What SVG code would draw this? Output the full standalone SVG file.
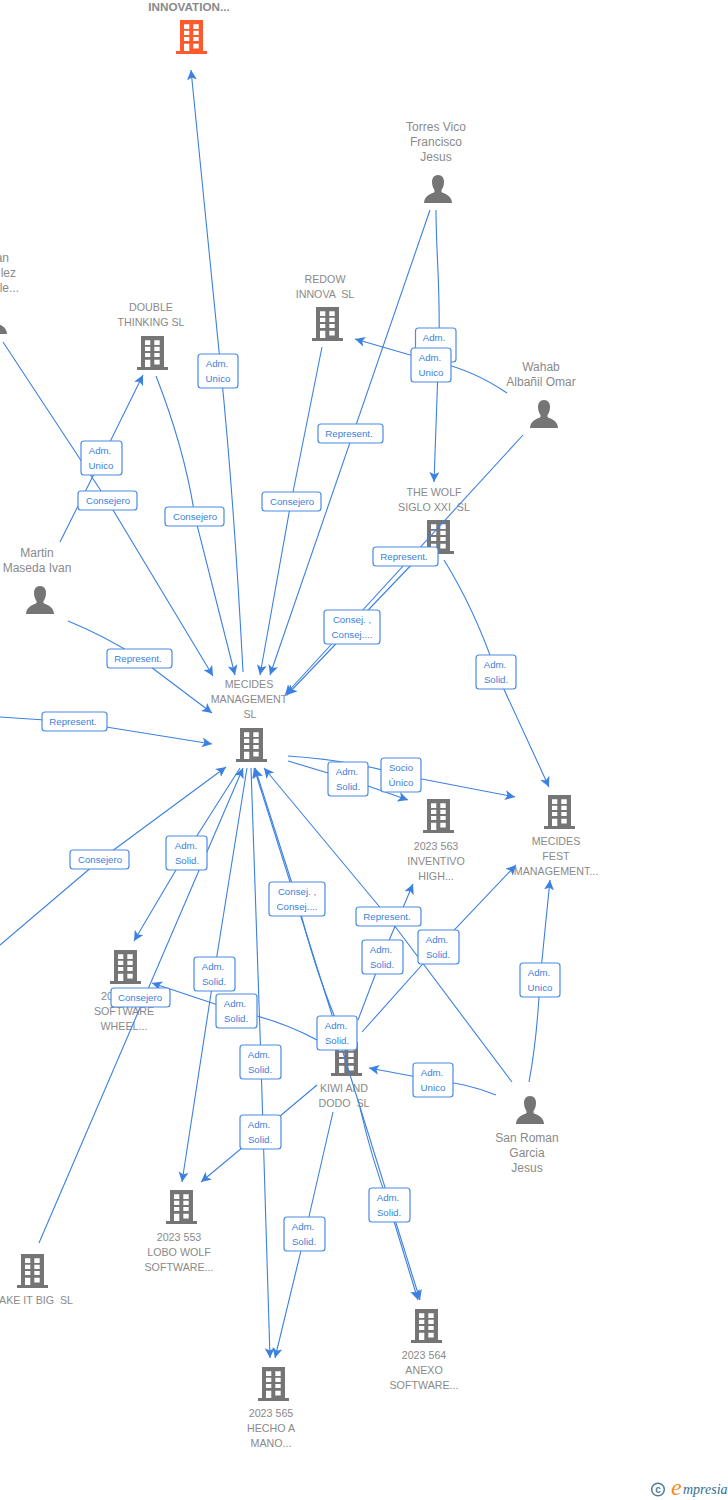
<svg xmlns="http://www.w3.org/2000/svg" width="728" height="1500" viewBox="0 0 728 1500">
<style>
text{font-family:"Liberation Sans",Arial,sans-serif;white-space:pre}
.c{font-size:10.7px;fill:#8a8a8a;text-anchor:middle}
.p{font-size:12px;fill:#8a8a8a;text-anchor:middle}
.e{fill:none;stroke:#3c80e0;stroke-width:1.1;marker-end:url(#a)}
.b{fill:#fff;stroke:#4a8be6;stroke-width:1.2}
.l{font-size:9.7px;fill:#3c7fdc;text-anchor:middle}
</style>
<defs>
<marker id="a" markerUnits="userSpaceOnUse" markerWidth="12" markerHeight="12" refX="10" refY="5" orient="auto"><path d="M0 0L10 5L0 10L2.500 5Z" fill="#3c80e0"/></marker>
<symbol id="bd" width="31" height="35" viewBox="0 0 31 35" overflow="visible"><path fill-rule="evenodd" d="M4 0H27V31H31V34H0V31H4ZM8 4.300V9H13.300V4.300ZM17.300 4.300V9H22.700V4.300ZM8 10.700V15H13.300V10.700ZM17.300 10.700V15H22.700V10.700ZM8 17V21H13.300V17ZM17.300 17V21H22.700V17ZM8 23.700V31H13.300V23.700ZM17.300 23.700V28.500H22.700V23.700Z"/></symbol>
<symbol id="pr" width="28" height="28" viewBox="0 0 28 28" overflow="visible"><path d="M14 0C18 0 20 3 20 7C20 11 18.500 13.500 17.500 15V17C20 19 27 19.500 28 27.500V28H0V27.500C1 19.500 8 19 10.500 17V15C9.500 13.500 8 11 8 7C8 3 10 0 14 0Z" fill="#757575"/></symbol>
</defs>

<g id="node-innovation"><text class="c" x="189" y="11" style="font-weight:bold;font-size:11.700px">INNOVATION...</text><use href="#bd" x="176" y="20" fill="#ff5a2e"/></g>
<g id="node-torres"><text class="p" x="436" y="131">Torres Vico</text><text class="p" x="436" y="146">Francisco</text><text class="p" x="436" y="161">Jesus</text><use href="#pr" x="424" y="175"/></g>
<g id="node-left-person"><text class="p" style="text-anchor:end" x="9" y="262">an</text><text class="p" style="text-anchor:end" x="16" y="277">lez</text><text class="p" style="text-anchor:end" x="19" y="292">le...</text><use href="#pr" x="-21" y="306"/></g>
<g id="node-double"><text class="c" x="151" y="311">DOUBLE</text><text class="c" x="151" y="326">THINKING SL</text><use href="#bd" x="137" y="336" fill="#757575"/></g>
<g id="node-redow"><text class="c" x="325" y="283">REDOW</text><text class="c" x="325" y="298">INNOVA  SL</text><use href="#bd" x="312" y="307" fill="#757575"/></g>
<g id="node-wahab"><text class="p" x="541" y="371">Wahab</text><text class="p" x="541" y="386">Albañil Omar</text><use href="#pr" x="530" y="400"/></g>
<g id="node-wolf"><text class="c" x="434" y="496">THE WOLF</text><text class="c" x="434" y="511">SIGLO XXI  SL</text><use href="#bd" x="423" y="520" fill="#757575"/></g>
<g id="node-martin"><text class="p" x="37" y="557">Martin</text><text class="p" x="37" y="572">Maseda Ivan</text><use href="#pr" x="26" y="586"/></g>
<g id="node-mecides"><text class="c" x="249" y="688">MECIDES</text><text class="c" x="249" y="703">MANAGEMENT</text><text class="c" x="250" y="718">SL</text><use href="#bd" x="236" y="728" fill="#757575"/></g>
<g id="node-563"><use href="#bd" x="423" y="799" fill="#757575"/><text class="c" x="436" y="850">2023 563</text><text class="c" x="436" y="865">INVENTIVO</text><text class="c" x="436" y="880">HIGH...</text></g>
<g id="node-fest"><use href="#bd" x="544" y="795" fill="#757575"/><text class="c" x="556" y="845">MECIDES</text><text class="c" x="556" y="860">FEST</text><text class="c" x="556" y="875">MANAGEMENT...</text></g>
<g id="node-wheel"><use href="#bd" x="110" y="950" fill="#757575"/><text class="c" style="text-anchor:start" x="101" y="1000">20</text><text class="c" x="124" y="1015">SOFTWARE</text><text class="c" x="124" y="1030">WHEEL...</text></g>
<g id="node-kiwi"><use href="#bd" x="331" y="1042" fill="#757575"/><text class="c" x="344" y="1092">KIWI AND</text><text class="c" x="344" y="1107">DODO  SL</text></g>
<g id="node-sanroman"><use href="#pr" x="516" y="1096"/><text class="p" x="527" y="1142">San Roman</text><text class="p" x="527" y="1157">Garcia</text><text class="p" x="527" y="1172">Jesus</text></g>
<g id="node-553"><use href="#bd" x="166" y="1190" fill="#757575"/><text class="c" x="179" y="1241">2023 553</text><text class="c" x="179" y="1256">LOBO WOLF</text><text class="c" x="179" y="1271">SOFTWARE...</text></g>
<g id="node-bigsl"><use href="#bd" x="17" y="1254" fill="#757575"/><text class="c" style="text-anchor:start" x="-1" y="1304">AKE IT BIG  SL</text></g>
<g id="node-564"><use href="#bd" x="411" y="1309" fill="#757575"/><text class="c" x="424" y="1359">2023 564</text><text class="c" x="424" y="1374">ANEXO</text><text class="c" x="424" y="1389">SOFTWARE...</text></g>
<g id="node-565"><use href="#bd" x="258" y="1367" fill="#757575"/><text class="c" x="271" y="1417">2023 565</text><text class="c" x="271" y="1432">HECHO A</text><text class="c" x="271" y="1447">MANO...</text></g>

<g id="connectors">
<path class="e" d="M243 672Q234 500 221 371L191 70"/>
<path class="e" d="M430 210L270 675"/>
<path class="e" d="M436 210C436 260 442 300 438 370L434 482"/>
<path class="e" d="M507 393Q470 368 431 361L355 339"/>
<path class="e" d="M523 435L285 695"/>
<path class="e" d="M415 561L352 627L287 695"/>
<path class="e" d="M444 560Q475 610 496 672L549 787"/>
<path class="e" d="M322 347L291 502L260 675"/>
<path class="e" d="M156 376Q185 450 195 517L235 675"/>
<path class="e" d="M60 542L102 458L143 375"/>
<path class="e" d="M3 342L107 500L213 676"/>
<path class="e" d="M68 621Q105 636 139 658L212 713"/>
<path class="e" d="M0 717L75 722L212 744"/>
<path class="e" d="M288 761L348 779L408 800"/>
<path class="e" d="M288 756Q350 760 401 775L515 797"/>
<path class="e" d="M0 945L100 860L226 767"/>
<path class="e" d="M240 768L186 853L134 941"/>
<path class="e" d="M39 1243L243 768"/>
<path class="e" d="M247 768L214 974L182 1182"/>
<path class="e" d="M251 768L261 1062L270 1358"/>
<path class="e" d="M336 1020Q315 970 297 899L255 768"/>
<path class="e" d="M333 1018L254 768"/>
<path class="e" d="M512 1082L388 917L264 768"/>
<path class="e" d="M358 1020L382 957L413 884"/>
<path class="e" d="M362 1032L438 947L516 865"/>
<path class="e" d="M317 1040Q280 1020 236 1011L152 983"/>
<path class="e" d="M337 1033L420 1300"/>
<path class="e" d="M317 1085L261 1132L201 1182"/>
<path class="e" d="M333 1112L305 1234L275 1358"/>
<path class="e" d="M360 1108Q372 1160 389 1205L418 1300"/>
<path class="e" d="M496 1095Q470 1084 433 1080L369 1068"/>
<path class="e" d="M529 1082Q537 1040 540 980L550 880"/>
<g id="edge-labels">
<rect class="b" x="198" y="354" width="40" height="34" rx="3"/><text class="l" x="217" y="367">Adm.</text><text class="l" x="218" y="382">Unico</text>
<rect class="b" x="415.500" y="328" width="40.500" height="34" rx="3"/><text class="l" x="434" y="341">Adm.</text>
<rect class="b" x="411" y="348" width="40" height="34" rx="3"/><text class="l" x="430" y="361">Adm.</text><text class="l" x="431" y="376">Unico</text>
<rect class="b" x="318" y="424" width="65" height="19" rx="3"/><text class="l" x="349" y="437">Represent.</text>
<rect class="b" x="81" y="441" width="41" height="34" rx="3"/><text class="l" x="100" y="454">Adm.</text><text class="l" x="101" y="469">Unico</text>
<rect class="b" x="78" y="491" width="59" height="19" rx="3"/><text class="l" x="108" y="504">Consejero</text>
<rect class="b" x="262" y="492" width="59" height="19" rx="3"/><text class="l" x="292" y="505">Consejero</text>
<rect class="b" x="165" y="507" width="59" height="19" rx="3"/><text class="l" x="195" y="520">Consejero</text>
<rect class="b" x="373" y="547" width="65" height="19" rx="3"/><text class="l" x="404" y="560">Represent.</text>
<rect class="b" x="324" y="610" width="56" height="34" rx="3"/><text class="l" x="352" y="623">Consej. ,</text><text class="l" x="352" y="638">Consej....</text>
<rect class="b" x="107" y="649" width="65" height="19" rx="3"/><text class="l" x="138" y="662">Represent.</text>
<rect class="b" x="476" y="655" width="40" height="34" rx="3"/><text class="l" x="495" y="668">Adm.</text><text class="l" x="496" y="683">Solid.</text>
<rect class="b" x="42" y="712" width="65" height="19" rx="3"/><text class="l" x="73" y="725">Represent.</text>
<rect class="b" x="381" y="758" width="40" height="34" rx="3"/><text class="l" x="401" y="771">Socio</text><text class="l" x="401" y="786">Único</text>
<rect class="b" x="328" y="762" width="40" height="34" rx="3"/><text class="l" x="347" y="775">Adm.</text><text class="l" x="348" y="790">Solid.</text>
<rect class="b" x="166" y="836" width="41" height="34" rx="3"/><text class="l" x="186" y="849">Adm.</text><text class="l" x="187" y="864">Solid.</text>
<rect class="b" x="70" y="850" width="59" height="19" rx="3"/><text class="l" x="100" y="863">Consejero</text>
<rect class="b" x="269" y="882" width="56" height="34" rx="3"/><text class="l" x="297" y="895">Consej. ,</text><text class="l" x="297" y="910">Consej....</text>
<rect class="b" x="356" y="907" width="65" height="19" rx="3"/><text class="l" x="387" y="920">Represent.</text>
<rect class="b" x="418" y="930" width="41" height="34" rx="3"/><text class="l" x="437" y="943">Adm.</text><text class="l" x="438" y="958">Solid.</text>
<rect class="b" x="362" y="940" width="41" height="34" rx="3"/><text class="l" x="381" y="953">Adm.</text><text class="l" x="382" y="968">Solid.</text>
<rect class="b" x="194" y="957" width="41" height="34" rx="3"/><text class="l" x="213" y="970">Adm.</text><text class="l" x="214" y="985">Solid.</text>
<rect class="b" x="520" y="963" width="40" height="34" rx="3"/><text class="l" x="539" y="976">Adm.</text><text class="l" x="540" y="991">Unico</text>
<rect class="b" x="111" y="988" width="59" height="19" rx="3"/><text class="l" x="140" y="1001">Consejero</text>
<rect class="b" x="216" y="994" width="41" height="34" rx="3"/><text class="l" x="235" y="1007">Adm.</text><text class="l" x="236" y="1022">Solid.</text>
<rect class="b" x="317" y="1016" width="40" height="34" rx="3"/><text class="l" x="336" y="1029">Adm.</text><text class="l" x="337" y="1044">Solid.</text>
<rect class="b" x="240" y="1045" width="41" height="34" rx="3"/><text class="l" x="259" y="1058">Adm.</text><text class="l" x="260" y="1073">Solid.</text>
<rect class="b" x="413" y="1063" width="40" height="34" rx="3"/><text class="l" x="432" y="1076">Adm.</text><text class="l" x="433" y="1091">Unico</text>
<rect class="b" x="240" y="1115" width="41" height="34" rx="3"/><text class="l" x="259" y="1128">Adm.</text><text class="l" x="260" y="1143">Solid.</text>
<rect class="b" x="369" y="1188" width="41" height="34" rx="3"/><text class="l" x="388" y="1201">Adm.</text><text class="l" x="389" y="1216">Solid.</text>
<rect class="b" x="284" y="1217" width="41" height="34" rx="3"/><text class="l" x="303" y="1230">Adm.</text><text class="l" x="304" y="1245">Solid.</text>
</g>
</g>
<g id="logo">
<circle cx="658" cy="1489.500" r="6.300" fill="none" stroke="#4a7f9c" stroke-width="1.500"/>
<text x="658" y="1493" text-anchor="middle" style="font-size:10px;font-weight:bold;fill:#4a7f9c">c</text>
<text x="671" y="1495" style="font-family:'Liberation Serif',serif;font-style:italic;font-size:24px;fill:#f58a1f">e</text>
<text x="683" y="1494" style="font-family:'Liberation Serif',serif;font-style:italic;font-size:14px;fill:#2f6f8f">mpresia</text>
</g>
</svg>
